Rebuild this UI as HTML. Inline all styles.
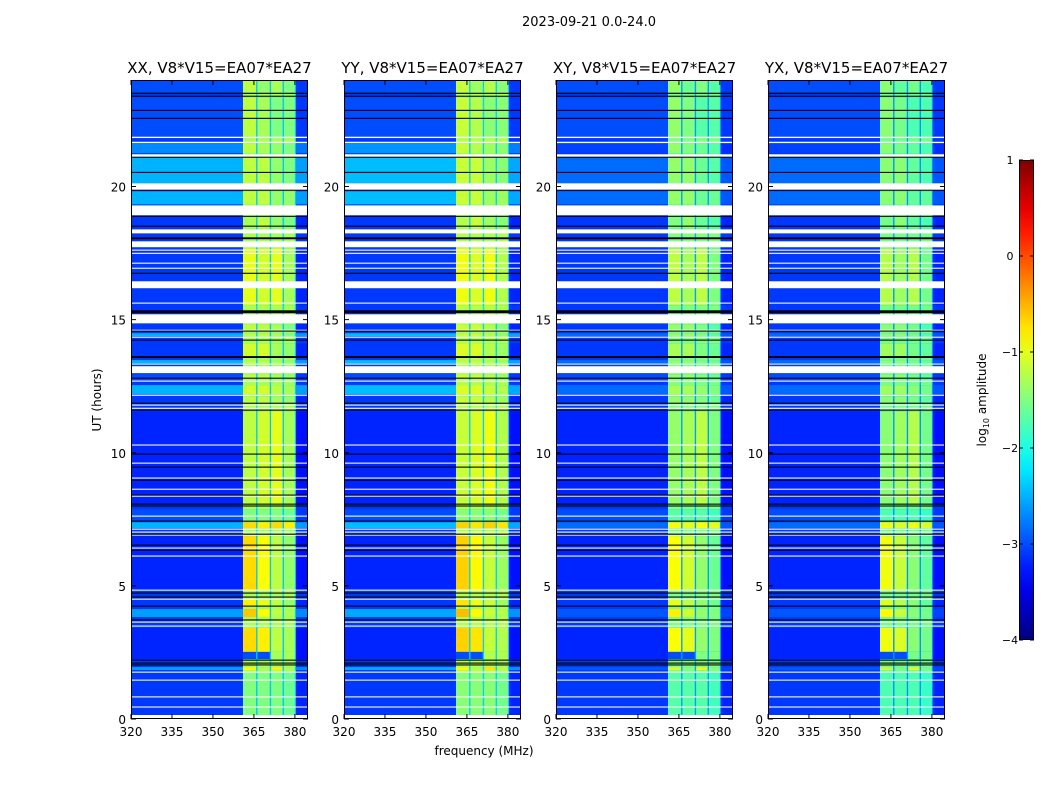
<!DOCTYPE html>
<html><head><meta charset="utf-8">
<style>
html,body{margin:0;padding:0;background:#fff;}
svg{display:block;font-family:"DejaVu Sans","Liberation Sans",sans-serif;}
</style></head>
<body>
<svg id="chart" width="1050" height="800" viewBox="0 0 1050 800">
<text x="589" y="26" font-size="13" text-anchor="middle">2023-09-21 0.0-24.0</text>
<text x="484" y="755" font-size="12" text-anchor="middle">frequency (MHz)</text>
<text transform="translate(101,400) rotate(-90)" font-size="12" text-anchor="middle">UT (hours)</text>
<text transform="translate(986,400) rotate(-90)" font-size="12" text-anchor="middle">log<tspan font-size="8" dy="3">10</tspan><tspan dy="-3"> amplitude</tspan></text>
</svg>
<script>
// ---- data ----
const panelTitles = ["XX, V8*V15=EA07*EA27","YY, V8*V15=EA07*EA27","XY, V8*V15=EA07*EA27","YX, V8*V15=EA07*EA27"];
const panelBgShift = [0, 0.05, -0.35, -0.35];
const panelBandShift = [0, 0.05, -0.2, -0.25];
const xTicks = [320,335,350,365,380];
const yTicks = [0,5,10,15,20];
const cbTicks = [1,0,-1,-2,-3,-4];
const bandCols = [[361,365.8],[366.3,370.8],[371.3,375.5],[376,380]];
// [hStart, hEnd, background level, ch1, ch2, ch3, ch4]
const segments = [
 [23.54,24,-3.0,-1.2,-1.4,-1.3,-1.5],
 [21.88,23.35,-3.0,-1.2,-1.3,-1.5,-1.5],
 [21.25,21.62,-2.7,-1.2,-1.3,-1.4,-1.5],
 [20.12,21.1,-2.5,-1.2,-1.2,-1.4,-1.5],
 [19.33,19.82,-2.5,-1.2,-1.2,-1.4,-1.4],
 [18.43,18.88,-3.1,-1.3,-1.2,-1.4,-1.5],
 [15.54,17.68,-3.1,-1.0,-1.1,-1.0,-1.3],
 [14.6,14.83,-3.1,-1.2,-1.2,-1.3,-1.5],
 [14.38,14.49,-2.5,-1.2,-1.2,-1.3,-1.5],
 [13.63,14.11,-3.1,-1.1,-1.1,-1.3,-1.4],
 [13.36,13.48,-2.5,-1.2,-1.2,-1.3,-1.4],
 [12.72,12.95,-3.0,-1.2,-1.2,-1.3,-1.4],
 [12.2,12.54,-2.5,-1.1,-1.1,-1.2,-1.3],
 [11.86,12.12,-3.1,-1.2,-1.2,-1.3,-1.4],
 [8.07,11.56,-3.2,-1.2,-1.1,-1.0,-1.3],
 [7.47,7.88,-3.0,-1.5,-1.5,-1.5,-1.6],
 [7.17,7.39,-2.5,-0.7,-0.8,-0.7,-0.8],
 [4.84,6.87,-3.2,-0.7,-0.9,-1.2,-1.4],
 [4.24,4.47,-3.1,-0.8,-1.0,-1.2,-1.4],
 [3.83,4.13,-2.6,-0.6,-0.9,-1.2,-1.3],
 [2.52,3.42,-3.2,-0.7,-0.8,-1.2,-1.3],
 [2.25,2.52,-3.2,-3.0,-3.0,-1.3,-1.3],
 [1.84,1.95,-2.6,-0.9,-1.3,-0.8,-1.3],
 [0,1.76,-3.1,-1.5,-1.5,-1.5,-1.6]
];
const whiteFlags = [[21.82,21.87],[21.63,21.68],[21.1,21.21],[19.86,20.12],[18.92,19.29],[18.24,18.39],[17.72,17.94],[17.59,17.63],[17.47,17.51],[17.1,17.14],[16.91,16.95],[16.18,16.44],[15.6,15.64],[14.86,15.2],[14.58,14.62],[14.32,14.36],[13.31,13.35],[12.99,13.25],[12.67,12.71],[12.14,12.18],[11.77,11.81],[11.65,11.69],[10.27,10.31],[9.59,9.63],[9.03,9.07],[8.61,8.65],[8.35,8.39],[7.6,7.64],[7.11,7.15],[7.0,7.04],[6.89,6.93],[6.4,6.44],[6.1,6.14],[4.82,4.86],[4.48,4.52],[3.62,3.66],[3.47,3.51],[1.74,1.78],[1.44,1.48],[0.81,0.85],[0.43,0.47],[0,0.15]];
const blackFlags = [[23.48,23.52],[23.37,23.41],[22.84,22.88],[22.54,22.58],[21.08,21.12],[20.51,20.55],[19.84,19.88],[18.86,18.9],[18.49,18.53],[18.02,18.09],[16.72,16.76],[15.24,15.35],[14.55,14.59],[14.21,14.25],[13.56,13.63],[12.78,12.82],[11.84,11.88],[11.58,11.62],[9.93,9.97],[9.44,9.48],[8.95,8.99],[8.39,8.43],[8.05,8.09],[7.98,8.02],[7.41,7.45],[6.92,6.96],[6.51,6.55],[6.32,6.36],[4.71,4.75],[4.56,4.6],[4.22,4.26],[3.7,3.74],[2.19,2.23],[2.08,2.12],[2.01,2.05]];

// ---- layout ----
const panelX = [131,344,556,768], PW = 177, PT = 80, PB = 719;
const FMIN = 320, FMAX = 384.8, HMIN = 0, HMAX = 24;
const NS = "http://www.w3.org/2000/svg";
const svg = document.getElementById('chart');
function jet(v){
  const t = Math.max(0, Math.min(1, (v+4)/5));
  const c = x => Math.round(255*Math.max(0, Math.min(1, 1.5 - Math.abs(4*t - x))));
  return `rgb(${c(3)},${c(2)},${c(1)})`;
}
function mk(tag, attrs, parent){
  const e = document.createElementNS(NS, tag);
  for (const k in attrs) e.setAttribute(k, attrs[k]);
  (parent||svg).appendChild(e); return e;
}
panelTitles.forEach((title, p) => {
  const x0 = panelX[p];
  const xs = f => x0 + (f - FMIN) / (FMAX - FMIN) * PW;
  const ys = h => PB - (h - HMIN) / (HMAX - HMIN) * (PB - PT);
  const g = mk('g', {});
  
  
  const rectH = (h0, h1, f0, f1, v, nm) => {
    const r = mk('rect', {x: xs(f0), y: ys(h1), width: xs(f1)-xs(f0), height: Math.max(0.8, ys(h0)-ys(h1)), fill: typeof v === 'string' ? v : jet(v)}, g);
    
    
  };
  rectH(HMIN, HMAX, FMIN, FMAX, -3.1, 'background');
  rectH(HMIN, HMAX, bandCols[0][0], bandCols[3][1]+0.4, -2.3 + panelBandShift[p], 'band-gap');
  bandCols.forEach(c => rectH(HMIN, HMAX, c[0], c[1], -1.3 + panelBandShift[p], 'band-channel'));
  segments.forEach(s => {
    let bg = s[2];
    if (bg > -2.8) bg += panelBgShift[p];
    rectH(s[0], s[1], FMIN, bandCols[0][0], bg, 'time-segment');
    rectH(s[0], s[1], bandCols[3][1]+0.4, FMAX, bg - 0.1, 'time-segment');
    rectH(s[0], s[1], bandCols[0][0], bandCols[3][1]+0.4, -2.4 + panelBandShift[p], 'band-gap');
    bandCols.forEach((c, i) => rectH(s[0], s[1], c[0], c[1], s[3+i] + (s[3+i] > -2.8 ? panelBandShift[p] : 0), 'band-cell'));
  });
  whiteFlags.forEach(w => rectH(w[0], w[1], FMIN, FMAX, '#ffffff', 'flagged-row'));
  blackFlags.forEach(w => rectH(w[0], w[1], FMIN, FMAX, '#000000', 'black-row'));
  const fr = mk('rect', {x: x0+0.5, y: PT+0.5, width: PW-1, height: PB-PT-1, fill: 'none', stroke: '#000', 'stroke-width': 1}, g);
  
  
  xTicks.forEach(f => {
    mk('line', {x1: xs(f), x2: xs(f), y1: PB, y2: PB-5, stroke: '#000'}, g);
    mk('line', {x1: xs(f), x2: xs(f), y1: PT, y2: PT+5, stroke: '#000'}, g);
    const t = mk('text', {x: xs(f), y: PB+17, 'font-size': 12, 'text-anchor': 'middle'}, g);
    t.textContent = f;
    
    
  });
  yTicks.forEach(h => {
    mk('line', {x1: x0, x2: x0+5, y1: ys(h), y2: ys(h), stroke: '#000'}, g);
    mk('line', {x1: x0+PW, x2: x0+PW-5, y1: ys(h), y2: ys(h), stroke: '#000'}, g);
    const t = mk('text', {x: x0-5, y: ys(h)+5, 'font-size': 12, 'text-anchor': 'end'}, g);
    t.textContent = h;
    
    
  });
  const tt = mk('text', {x: x0+PW/2, y: 73, 'font-size': 15, 'text-anchor': 'middle'}, g);
  tt.textContent = title;
  
  
});
// ---- colorbar ----
const CBX = 1019, CBW = 15, CBT = 160, CBB = 640, CMIN = -4, CMAX = 1;
const defs = mk('defs', {});
const grad = mk('linearGradient', {id: 'jetgrad', x1: 0, y1: 1, x2: 0, y2: 0}, defs);
for (let i = 0; i <= 20; i++) {
  const v = CMIN + (CMAX - CMIN) * i / 20;
  mk('stop', {offset: (i/20), 'stop-color': jet(v)}, grad);
}
const cb = mk('rect', {x: CBX+0.5, y: CBT+0.5, width: CBW-1, height: CBB-CBT-1, fill: 'url(#jetgrad)', stroke: '#000'});


const cys = v => CBB - (v - CMIN) / (CMAX - CMIN) * (CBB - CBT);
cbTicks.forEach(v => {
  mk('line', {x1: CBX, x2: CBX+4, y1: cys(v), y2: cys(v), stroke: '#000'});
  mk('line', {x1: CBX+CBW, x2: CBX+CBW-4, y1: cys(v), y2: cys(v), stroke: '#000'});
  const t = mk('text', {x: 1010, y: cys(v)+4, 'font-size': 11, 'text-anchor': 'middle'});
  t.textContent = v < 0 ? '\u2212' + Math.abs(v) : String(v);
  
  
});
</script>
</body></html>
